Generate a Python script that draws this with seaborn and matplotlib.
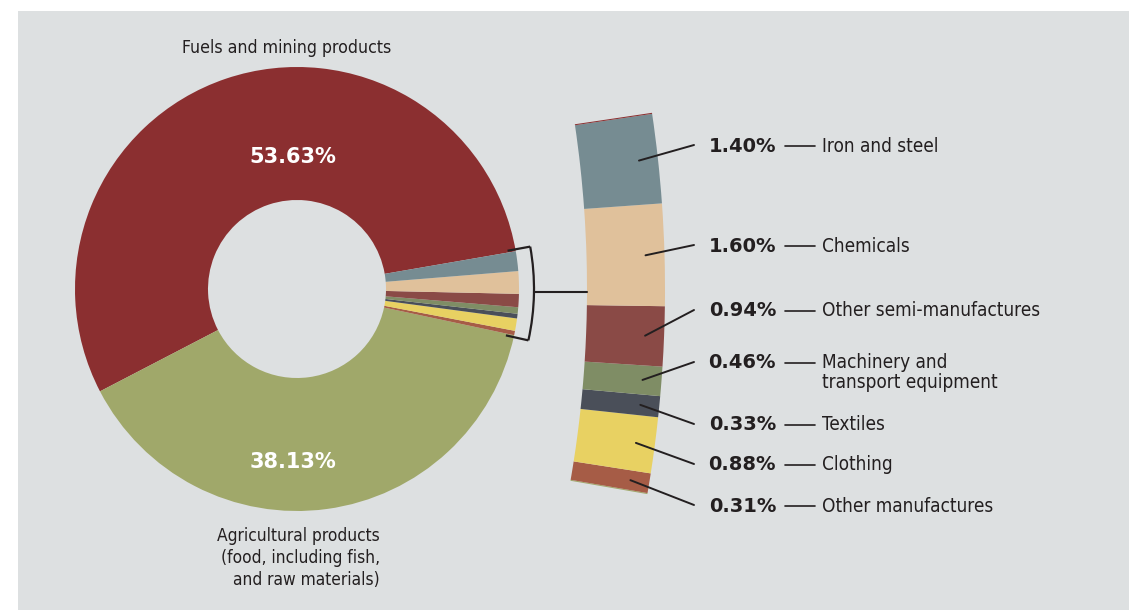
import matplotlib
matplotlib.use("Agg")
import matplotlib.pyplot as plt
import seaborn as sns
import numpy as np
from matplotlib.patches import Rectangle, Arc

# ---------------- data ----------------
main_labels = ["Fuels and mining products",
               "Agricultural products\n(food, including fish,\nand raw materials)"]
main_values = [53.63, 38.13]
main_colors = ["#8B2F30", "#A0A86A"]

detail_labels = ["Iron and steel", "Chemicals", "Other semi-manufactures",
                 "Machinery and\ntransport equipment", "Textiles", "Clothing",
                 "Other manufactures"]
detail_values = [1.40, 1.60, 0.94, 0.46, 0.33, 0.88, 0.31]
detail_colors = ["#768C92", "#E0C19B", "#8A4A46", "#7F8D65", "#4A4F59",
                 "#E8D162", "#A65C46"]

# ---------------- style ----------------
sns.set_theme(style="white")
plt.rcParams["font.family"] = ["DejaVu Sans"]
BG = "#DDE0E1"
INK = "#231F20"
COND = dict(fontstretch="condensed", family=["DejaVu Sans"])

W, H = 1129, 610
fig = plt.figure(figsize=(W / 100, H / 100), dpi=100)
ax = fig.add_axes([0, 0, 1, 1])


def Y(py):
    return H - py


# main donut (counter-clockwise from the red slice)
pie_vals = main_values + detail_values[::-1]
pie_cols = main_colors + detail_colors[::-1]
cx, cy = 297, Y(289)
start = 9.8
ax.pie(pie_vals, colors=pie_cols, startangle=start, counterclock=True,
       radius=222, center=(cx, cy),
       wedgeprops=dict(width=133, linewidth=0))

total = sum(pie_vals)
small_sum = sum(detail_values)
small_from = start + 360 * sum(main_values) / total - 360
small_to = start

# bracket
rb = 237
m = 0.5
ax.add_patch(Arc((cx, cy), 2 * rb, 2 * rb, theta1=small_from - m,
                 theta2=small_to + m, color=INK, lw=1.6))
for a in (small_from - m, small_to + m):
    t = np.radians(a)
    ax.plot([cx + rb * np.cos(t), cx + 214 * np.cos(t)],
            [cy + rb * np.sin(t), cy + 214 * np.sin(t)], color=INK, lw=1.6,
            solid_capstyle="butt")

# expanded bar: big ring sector
bx, by = -534, Y(289)
r_out, bw = 1199, 78
span = 18.2
deg_per = span / small_sum
sliver = 0.05 / deg_per
bar_start = -9.8
rest = (360 - span) / deg_per - 2 * sliver
bar_vals = [sliver] + detail_values[::-1] + [sliver, rest]
bar_cols = [main_colors[1]] + detail_colors[::-1] + [main_colors[0], "none"]
ax.pie(bar_vals, colors=bar_cols, startangle=bar_start - 0.05,
       counterclock=True, radius=r_out, center=(bx, by),
       wedgeprops=dict(width=bw, linewidth=0))

# connector
ax.plot([cx + rb, bx + r_out - bw], [cy - 2.5, cy - 2.5], color=INK, lw=1.5)

# labels on the right
label_y = [146, 246, 311, 363, 425, 465, 506]
cum = bar_start
mids = []
for v in detail_values[::-1]:
    mids.append(cum + v * deg_per / 2)
    cum += v * deg_per
mids = mids[::-1]
for i, (lab, v) in enumerate(zip(detail_labels, detail_values)):
    t = np.radians(mids[i])
    x0, y0 = bx + 1180 * np.cos(t), by + 1180 * np.sin(t)
    ly = Y(label_y[i])
    ax.plot([x0, 694], [y0, ly + 1], color=INK, lw=1.4)
    ax.text(776, ly, f"{v:.2f}%", ha="right", va="center", fontsize=14,
            fontweight="bold", color=INK)
    ax.plot([785, 815], [ly, ly], color=INK, lw=1.2)
    if "\n" in lab:
        ax.text(822, ly + 10, lab, ha="left", va="top", fontsize=13.6,
                color=INK, linespacing=1.1, **COND)
    else:
        ax.text(822, ly, lab, ha="left", va="center", fontsize=13.6,
                color=INK, **COND)

# labels on the donut
ax.text(293, Y(157), f"{main_values[0]:.2f}%", ha="center", va="center",
        fontsize=15, fontweight="bold", color="white")
ax.text(293, Y(462), f"{main_values[1]:.2f}%", ha="center", va="center",
        fontsize=15, fontweight="bold", color="white")
ax.text(287, Y(48), main_labels[0], ha="center", va="center", fontsize=12.7,
        color=INK, **COND)
ax.text(380, Y(558), main_labels[1], ha="right", va="center", fontsize=12.4,
        color=INK, multialignment="right", linespacing=1.3, **COND)

# background panel
ax.add_patch(Rectangle((18, 0), W - 18, H - 11, facecolor=BG,
                       edgecolor="none", zorder=-10))
ax.set_xlim(0, W)
ax.set_ylim(0, H)
ax.set_aspect("equal")
ax.axis("off")
fig.patch.set_facecolor("white")
fig.savefig("out.png", dpi=100, facecolor="white")
